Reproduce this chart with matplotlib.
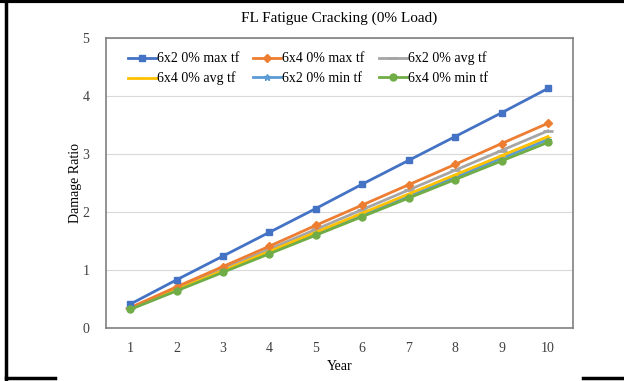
import matplotlib
matplotlib.use("Agg")
import matplotlib.pyplot as plt
from matplotlib.lines import Line2D

years = [1, 2, 3, 4, 5, 6, 7, 8, 9, 10]

s_6x2_max = [0.41, 0.83, 1.24, 1.65, 2.06, 2.48, 2.89, 3.30, 3.71, 4.13]
s_6x4_max = [0.35, 0.71, 1.06, 1.41, 1.77, 2.12, 2.47, 2.82, 3.18, 3.53]
s_6x2_avg = [0.34, 0.68, 1.02, 1.36, 1.70, 2.04, 2.38, 2.72, 3.06, 3.40]
s_6x4_avg = [0.33, 0.66, 0.99, 1.32, 1.65, 1.98, 2.31, 2.64, 2.97, 3.30]
s_6x2_min = [0.325, 0.65, 0.975, 1.30, 1.625, 1.95, 2.275, 2.60, 2.925, 3.25]
s_6x4_min = [0.32, 0.64, 0.96, 1.28, 1.60, 1.92, 2.24, 2.56, 2.88, 3.20]

labels = ["6x2 0% max tf", "6x4 0% max tf", "6x2 0% avg tf",
          "6x4 0% avg tf", "6x2 0% min tf", "6x4 0% min tf"]

plt.rcParams['font.family'] = ['Liberation Serif', 'DejaVu Serif']

fig = plt.figure(figsize=(6.24, 3.81), dpi=100)
ax = fig.add_axes([106 / 624, 1 - 328 / 381, 467 / 624, 290 / 381])

ax.plot(years, s_6x2_max, color='#4472C4', marker='s', ms=5, lw=2, label=labels[0], zorder=5)
ax.plot(years, s_6x4_max, color='#ED7D31', marker='D', ms=4, lw=2, label=labels[1], zorder=4)
ax.plot(years, s_6x2_avg, color='#A5A5A5', marker='_', ms=7, mew=2, lw=2, label=labels[2], zorder=3)
ax.plot(years, s_6x4_avg, color='#FFC000', marker='_', ms=5, mew=1, lw=2, label=labels[3], zorder=3)
ax.plot(years, s_6x2_min, color='#5B9BD5', marker='*', ms=5, lw=2, label=labels[4], zorder=2)
ax.plot(years, s_6x4_min, color='#70AD47', marker='o', ms=5, lw=2, label=labels[5], zorder=6)

ax.set_xlim(0.48, 10.54)
ax.set_ylim(0, 5)
ax.set_xticks(years)
ax.set_yticks([0, 1, 2, 3, 4, 5])
ax.tick_params(length=0, labelsize=10, pad=10, labelcolor='#404040')
ax.tick_params(axis='y', pad=12)
ax.grid(axis='y', color='#D9D9D9', lw=0.8)
ax.set_axisbelow(True)
for sp in ax.spines.values():
    sp.set_color('#808080')
    sp.set_linewidth(1.2)

ax.set_xlabel("Year", fontsize=10, labelpad=4)
ax.set_ylabel("Damage Ratio", fontsize=10, labelpad=0)
ax.set_title("FL Fatigue Cracking (0% Load)", fontsize=11, pad=12)

# legend filled row by row, like the original
h, l = ax.get_legend_handles_labels()
order = [0, 3, 1, 4, 2, 5]
ax.legend([h[i] for i in order], [l[i] for i in order],
          loc='upper left', ncol=3, fontsize=10, frameon=False,
          bbox_to_anchor=(0.035, 0.972), handlelength=2.0, handletextpad=0.1,
          columnspacing=1.0, labelspacing=0.45, borderaxespad=0)

# outer frame lines of the figure image
fig.add_artist(Line2D([0, 1], [0.997, 0.997], color='black', lw=3, transform=fig.transFigure))
fig.add_artist(Line2D([6 / 624, 6 / 624], [0, 1], color='black', lw=2.5, transform=fig.transFigure))
fig.add_artist(Line2D([6 / 624, 55 / 624], [3 / 381, 3 / 381], color='black', lw=2.5, transform=fig.transFigure))
fig.add_artist(Line2D([583 / 624, 1], [3 / 381, 3 / 381], color='black', lw=2.5, transform=fig.transFigure))

fig.savefig("out.png", dpi=100)
